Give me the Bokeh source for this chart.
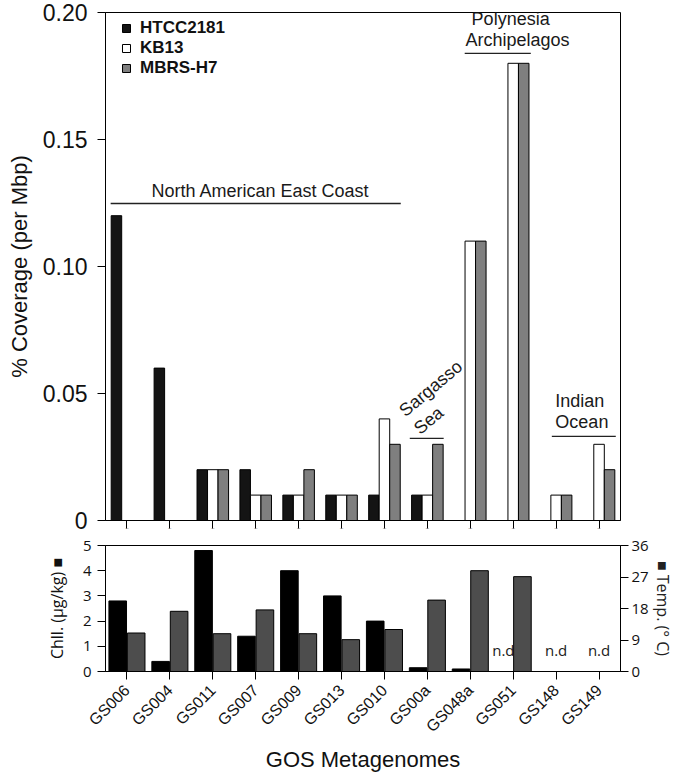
import math
from bokeh.plotting import figure
from bokeh.models import (FactorRange, Range1d, LinearAxis, FixedTicker, Legend,
                          LegendItem, Label, ColumnDataSource, CustomJSTickFormatter)
from bokeh.core.properties import value
from bokeh.layouts import column
from bokeh.embed import file_html
from bokeh.resources import INLINE
from bokeh.transform import dodge

# ---------------- data ----------------
samples = ["GS006", "GS004", "GS011", "GS007", "GS009", "GS013",
           "GS010", "GS00a", "GS048a", "GS051", "GS148", "GS149"]
htcc2181 = [0.12, 0.06, 0.02, 0.02, 0.01, 0.01, 0.01, 0.01, 0, 0, 0, 0]
kb13 = [0, 0, 0.02, 0.01, 0.01, 0.01, 0.04, 0.01, 0.11, 0.18, 0.01, 0.03]
mbrs_h7 = [0, 0, 0.02, 0.01, 0.02, 0.01, 0.03, 0.03, 0.11, 0.18, 0.01, 0.02]
chl = [2.8, 0.4, 4.8, 1.4, 4.0, 3.0, 2.0, 0.15, 0.1, None, None, None]
temp = [11.0, 17.2, 10.8, 17.6, 10.8, 9.1, 12.0, 20.4, 28.8, 27.1, None, None]
nd_samples = ["GS051", "GS148", "GS149"]
cov_ticks = [0, 0.05, 0.10, 0.15, 0.20]
chl_ticks = [0, 1, 2, 3, 4, 5]
temp_ticks = [0, 9, 18, 27, 36]

SANS = "Liberation Sans"
MYR = "Open Sans"

# ---------------- top panel ----------------
xr = FactorRange(factors=samples)
p = figure(x_range=xr, y_range=Range1d(0, 0.2), width=680, height=535,
           output_backend="svg", toolbar_location=None,
           min_border_left=105, min_border_right=60, min_border_top=12, min_border_bottom=15)
p.xgrid.grid_line_color = None
p.ygrid.grid_line_color = None
p.outline_line_color = "black"
p.outline_line_width = 1

src = ColumnDataSource(dict(samples=samples, htcc=htcc2181, kb=kb13, mb=mbrs_h7))
bw = 0.245
r1 = p.vbar(x=dodge("samples", -bw, range=xr), top="htcc", width=bw, source=src,
            fill_color="#141414", line_color="black", line_width=1)
r2 = p.vbar(x=dodge("samples", 0, range=xr), top="kb", width=bw, source=src,
            fill_color="white", line_color="black", line_width=1)
r3 = p.vbar(x=dodge("samples", bw, range=xr), top="mb", width=bw, source=src,
            fill_color="#7f7f7f", line_color="black", line_width=1)

p.yaxis.ticker = FixedTicker(ticks=cov_ticks)
p.yaxis.formatter = CustomJSTickFormatter(code="return tick == 0 ? '0' : tick.toFixed(2);")
p.yaxis.minor_tick_line_color = None
p.yaxis.major_tick_out = 8
p.yaxis.major_tick_in = 0
p.yaxis.major_label_text_font = SANS
p.yaxis.major_label_text_font_size = "23px"
p.yaxis.major_label_text_color = "#111111"
p.yaxis.major_label_standoff = 10
p.yaxis.axis_label = "% Coverage (per Mbp)"
p.yaxis.axis_label_text_font = SANS
p.yaxis.axis_label_text_font_size = "22px"
p.yaxis.axis_label_text_font_style = "normal"
p.yaxis.axis_label_text_color = "#111111"
p.yaxis.axis_label_standoff = 8

p.xaxis.major_label_overrides = {s: "" for s in samples}
p.xaxis.major_label_text_font_size = "1px"
p.xaxis.major_label_standoff = 0
p.xaxis.major_tick_out = 8
p.xaxis.major_tick_in = 0
p.xaxis.axis_line_color = "black"

legend = Legend(items=[LegendItem(label="HTCC2181", renderers=[r1]),
                       LegendItem(label="KB13", renderers=[r2]),
                       LegendItem(label="MBRS-H7", renderers=[r3])],
                location=(16, 442), padding=0, spacing=0, margin=0,
                glyph_width=10, glyph_height=10, label_height=20,
                label_standoff=9, border_line_color=None,
                background_fill_alpha=0,
                label_text_font=SANS, label_text_font_size="17px",
                label_text_font_style="bold", label_text_color="#111111")
p.add_layout(legend, "center")

# region annotations (text and bracket lines)
annot_texts = [
    ("North American East Coast", 3.61, 0.1299, 0.0),
    ("Polynesia", 9.44, 0.1976, 0.0),
    ("Archipelagos", 9.60, 0.1890, 0.0),
    ("Sargasso", 7.58, 0.0520, 40.0),
    ("Sea", 7.53, 0.0394, 40.0),
    ("Indian", 11.05, 0.0472, 0.0),
    ("Ocean", 11.10, 0.0386, 0.0),
]
for txt, ax_, ay_, ang in annot_texts:
    p.add_layout(Label(x=ax_, y=ay_, text=txt, angle=math.radians(ang),
                       text_align="center", text_baseline="middle",
                       text_font=SANS, text_font_size="18px", text_color="#1a1a1a"))
annot_lines = [
    (0.12, 6.88, 0.1248),
    (8.37, 9.91, 0.1839),
    (7.09, 7.88, 0.0323),
    (10.40, 11.89, 0.0331),
]
for x0, x1, yy in annot_lines:
    p.segment(x0=[x0], x1=[x1], y0=[yy], y1=[yy], line_color="#222222", line_width=1.3)

# ---------------- bottom panel ----------------
q = figure(x_range=xr, y_range=Range1d(0, 5), width=680, height=241,
           output_backend="svg", toolbar_location=None,
           min_border_left=105, min_border_right=60, min_border_top=10, min_border_bottom=105)
q.xgrid.grid_line_color = None
q.ygrid.grid_line_color = None
q.outline_line_color = "black"
q.outline_line_width = 1
q.extra_y_ranges = {"temp": Range1d(0, 36)}

cs = [s for s, v in zip(samples, chl) if v is not None]
cv = [v for v in chl if v is not None]
ts = [s for s, v in zip(samples, temp) if v is not None]
tv = [v for v in temp if v is not None]
bw2 = 0.41
q.vbar(x=dodge("s", -0.215, range=xr), top="v", width=bw2,
       source=ColumnDataSource(dict(s=cs, v=cv)),
       fill_color="black", line_color="black", line_width=1)
q.vbar(x=dodge("s", 0.215, range=xr), top="v", width=bw2, y_range_name="temp",
       source=ColumnDataSource(dict(s=ts, v=tv)),
       fill_color="#4d4d4d", line_color="black", line_width=1)

nd_offsets = [-0.23, 0.0, 0.0]
q.text(x=[samples.index(s) + 0.5 + o for s, o in zip(nd_samples, nd_offsets)],
       y=[0.85] * len(nd_samples), text=["n.d"] * len(nd_samples),
       text_align="center", text_baseline="middle",
       text_font=value(MYR), text_font_size="15px", text_color="#1a1a1a")

q.yaxis.ticker = FixedTicker(ticks=chl_ticks)
q.yaxis.minor_tick_line_color = None
q.yaxis.major_tick_out = 8
q.yaxis.major_tick_in = 0
q.yaxis.major_label_text_font = MYR
q.yaxis.major_label_text_font_size = "15px"
q.yaxis.major_label_text_color = "#111111"
q.yaxis.major_label_standoff = 6
q.yaxis.axis_label = "Chll. (µg/kg) ■"
q.yaxis.axis_label_text_font = MYR
q.yaxis.axis_label_text_font_size = "16px"
q.yaxis.axis_label_text_font_style = "normal"
q.yaxis.axis_label_text_color = "#111111"
q.yaxis.axis_label_standoff = 12

rax = LinearAxis(y_range_name="temp", ticker=FixedTicker(ticks=temp_ticks),
                 axis_label="■ Temp. (° C)")
rax.minor_tick_line_color = None
rax.major_tick_out = 8
rax.major_tick_in = 0
rax.major_label_text_font = MYR
rax.major_label_text_font_size = "15px"
rax.major_label_text_color = "#111111"
rax.major_label_standoff = 3
rax.axis_label_text_font = MYR
rax.axis_label_text_font_size = "16px"
rax.axis_label_text_font_style = "normal"
rax.axis_label_text_color = "#222222"
rax.axis_label_standoff = 0
q.add_layout(rax, "right")

q.xaxis.major_tick_out = 8
q.xaxis.major_tick_in = 0
q.xaxis.major_label_orientation = math.pi / 4
q.xaxis.major_label_text_font = SANS
q.xaxis.major_label_text_font_size = "16px"
q.xaxis.major_label_text_color = "#111111"
q.xaxis.major_label_standoff = 8
q.xaxis.axis_label = "GOS Metagenomes"
q.xaxis.axis_label_text_font = SANS
q.xaxis.axis_label_text_font_size = "22px"
q.xaxis.axis_label_text_font_style = "normal"
q.xaxis.axis_label_text_color = "#111111"
q.xaxis.axis_label_standoff = 3

layout = column(p, q, spacing=0)
open("out.html", "w").write(file_html(layout, INLINE))
